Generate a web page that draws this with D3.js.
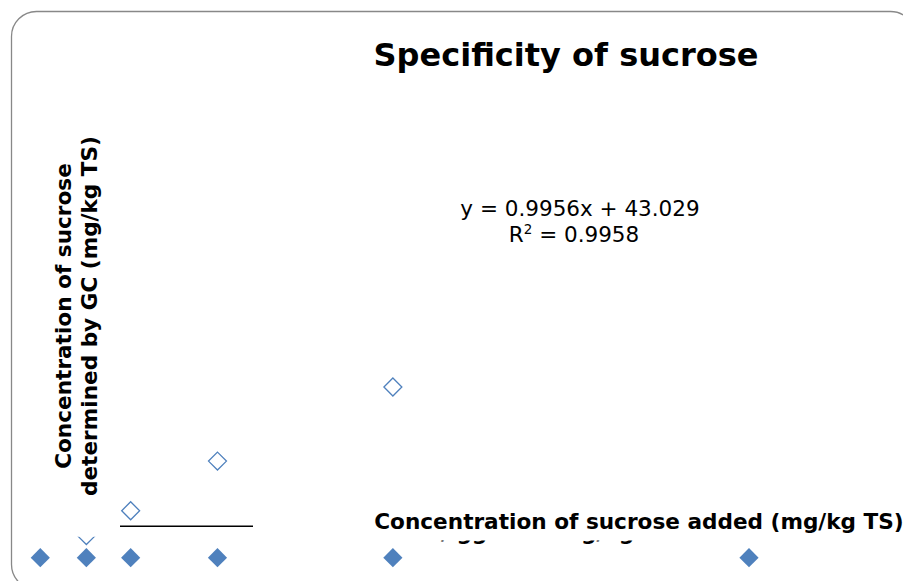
<!DOCTYPE html>
<html>
<head>
<meta charset="utf-8">
<script src="https://cdn.jsdelivr.net/npm/d3@7"></script>
<style>
  html, body { margin: 0; padding: 0; background: #fff; }
  svg { display: block; }
  text { font-family: "DejaVu Sans", Verdana, sans-serif; }
</style>
</head>
<body>
<svg id="chart" width="903" height="581"></svg>
<script>
// ---- data ----
const title = "Specificity of sucrose";
const xTitle = "Concentration of sucrose added (mg/kg TS)";
const yTitleLines = ["Concentration of sucrose", "determined by GC (mg/kg TS)"];
const equation = "y = 0.9956x + 43.029";
const rSquared = "0.9958";
const addedBlank = [0, 52, 102, 200, 398, 800];      // filled diamonds (x)
const blankValues = [0, 0, 0, 0, 0, 0];              // filled diamonds (y)
const addedSpiked = [52, 102, 200, 398];             // open diamonds (x)
const determined = [57, 121, 249, 440];              // open diamonds (y)
const hiddenLabelParts = ["/ gg", "g/kg"];

const svg = d3.select("#chart");
const W = 903, H = 581;

// chart border
svg.append("rect")
  .attr("x", 11.5).attr("y", 11.5)
  .attr("width", 904).attr("height", 578)
  .attr("rx", 25).attr("ry", 25)
  .attr("fill", "#fff")
  .attr("stroke", "#888").attr("stroke-width", 1.3);

// scales
const x = d3.scaleLinear().domain([0, 800]).range([40.3, 749]);
const y = d3.scaleLinear().domain([0, 440]).range([557.7, 387]);

const blue = "#4F81BD";
const diamond = d3.symbol().type(d3.symbolDiamond2).size(235);

// clip: hides upper half of the first open marker
const defs = svg.append("defs");
defs.append("clipPath").attr("id", "openClip")
  .append("path")
  .attr("clip-rule", "evenodd")
  .attr("d", `M0,0H${W}V${H}H0Z M70,0H102V536.7H70Z`);
defs.append("clipPath").attr("id", "descClip")
  .append("rect").attr("x", 0).attr("y", 540.5).attr("width", W).attr("height", 20);

// short axis line segment
svg.append("line")
  .attr("x1", 120).attr("x2", 253)
  .attr("y1", 526.3).attr("y2", 526.3)
  .attr("stroke", "#000").attr("stroke-width", 1.4);

// filled diamonds
svg.append("g").selectAll("path")
  .data(addedBlank.map((v, i) => [v, blankValues[i]]))
  .join("path")
  .attr("d", diamond)
  .attr("transform", d => `translate(${x(d[0])},${y(d[1])})`)
  .attr("fill", blue);

// open diamonds
svg.append("g").attr("clip-path", "url(#openClip)")
  .selectAll("path")
  .data(addedSpiked.map((v, i) => [v, determined[i]]))
  .join("path")
  .attr("d", d3.symbol().type(d3.symbolDiamond2).size(205))
  .attr("transform", d => `translate(${x(d[0])},${y(d[1])})`)
  .attr("fill", "none")
  .attr("stroke", blue).attr("stroke-width", 1.3);

// title
svg.append("text")
  .attr("x", 566).attr("y", 66)
  .attr("text-anchor", "middle")
  .attr("font-size", 32).attr("font-weight", "bold")
  .text(title);

// equation
svg.append("text")
  .attr("x", 580).attr("y", 216)
  .attr("text-anchor", "middle")
  .attr("font-size", 21.5)
  .text(equation);
const r2 = svg.append("text")
  .attr("x", 574).attr("y", 242)
  .attr("text-anchor", "middle")
  .attr("font-size", 21.5);
r2.append("tspan").text("R");
r2.append("tspan").attr("font-size", 13.5).attr("dy", -8).text("2");
r2.append("tspan").attr("dy", 8).text(" = " + rSquared);

// y axis title
const yt = svg.append("text")
  .attr("transform", "translate(71,316) rotate(-90)")
  .attr("text-anchor", "middle")
  .attr("font-size", 21.6).attr("font-weight", "bold");
yTitleLines.forEach((l, i) => {
  yt.append("tspan").attr("x", 0).attr("dy", i === 0 ? 0 : 25.5).text(l);
});

// x axis title
svg.append("text")
  .attr("x", 639).attr("y", 529)
  .attr("text-anchor", "middle")
  .attr("font-size", 21.6).attr("font-weight", "bold")
  .text(xTitle);

// partly hidden second label row (only descenders visible)
const dg = svg.append("g").attr("clip-path", "url(#descClip)");
dg.append("text").attr("x", 441).attr("y", 540)
  .attr("font-size", 21.6).attr("font-weight", "bold").text(hiddenLabelParts[0]);
dg.append("text").attr("x", 581).attr("y", 540)
  .attr("font-size", 21.6).attr("font-weight", "bold").text(hiddenLabelParts[1]);
</script>
</body>
</html>
